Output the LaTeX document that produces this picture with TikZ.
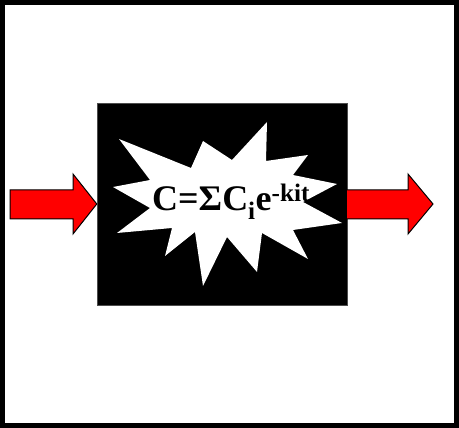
\documentclass[tikz,border=0pt]{standalone}
\usepackage{fontspec}
\setmainfont{Liberation Serif}
\usetikzlibrary{positioning}

\begin{document}
\begin{tikzpicture}[x=1pt, y=-1pt,
		frame/.style={draw=black, line width=5pt},
		reactor/.style={rectangle, fill=black, draw=black!70, line width=0.4pt,
			minimum width=250pt, minimum height=202pt, inner sep=0pt},
		burst/.style={fill=white, draw=none},
		flow/.style={fill=red, draw=black, line width=1pt, line join=miter},
		formula/.style={font=\fontsize{36}{43}\selectfont\bfseries, text=black, inner sep=0pt}
	]
		\useasboundingbox (0,0) rectangle (459,428);
		\draw[frame] (2.5,2.5) rectangle (456.5,425.5);

		\node[reactor] (box) at (222,204) {};

		% starburst
		\fill[burst] (119,139) -- (191,168) -- (203,141) -- (232,160) -- (267,122)
			-- (266,161) -- (308,155) -- (293,175) -- (337,184) -- (303,202)
			-- (342,223) -- (293,230) -- (308,259) -- (262,233) -- (257,272)
			-- (227,237) -- (203,286) -- (195,232) -- (165,256) -- (172,228)
			-- (117,233) -- (150,208) -- (113,187) -- (150,180) -- cycle;

		\node[formula, anchor=base west] (eq) at (152,211)
			{C=ΣC\textsubscript{i}e\textsuperscript{-kit}};

		% in and out arrows
		\draw[flow] (10,190) -- (73,190) -- (73,174) -- (box.west) -- (73,234)
			-- (73,219) -- (10,219) -- cycle;
		\draw[flow] (box.east |- 0,190) -- (408,190) -- (408,174) -- (433,204)
			-- (408,234) -- (408,219) -- (box.east |- 0,219);
\end{tikzpicture}
\end{document}
